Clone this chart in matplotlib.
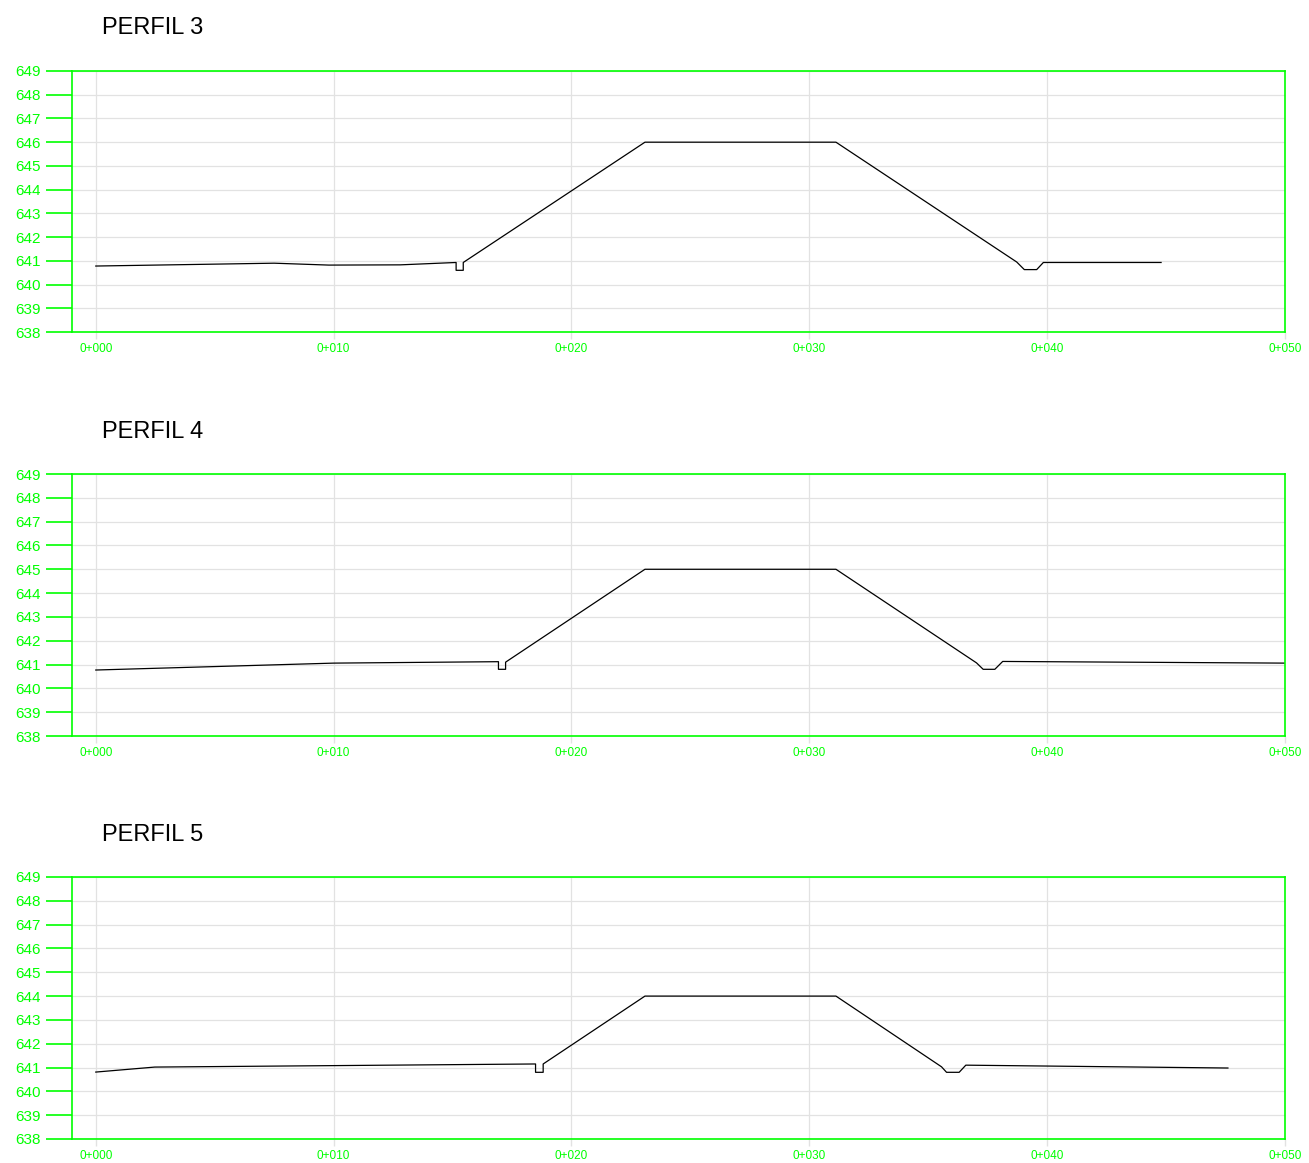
import matplotlib
matplotlib.use("Agg")
import matplotlib.pyplot as plt

plt.rcParams['font.family'] = ['Liberation Sans', 'DejaVu Sans']

# Perfil data (station in m, elevation in m)
titles = ["PERFIL 3", "PERFIL 4", "PERFIL 5"]

x_p3 = [0, 7.5, 9.8, 12.8, 15.15, 15.15, 15.45, 15.45, 23.09, 31.12, 38.72, 39.04, 39.56, 39.84, 44.79]
y_p3 = [640.78, 640.9, 640.82, 640.83, 640.93, 640.6, 640.6, 640.93, 646.0, 646.0, 640.95, 640.63, 640.63, 640.93, 640.93]

x_p4 = [0, 10.0, 16.93, 16.93, 17.23, 17.23, 23.09, 31.12, 37.03, 37.31, 37.8, 38.13, 50.0]
y_p4 = [640.77, 641.06, 641.12, 640.8, 640.8, 641.1, 645.0, 645.0, 641.07, 640.8, 640.8, 641.13, 641.06]

x_p5 = [0, 2.48, 18.49, 18.49, 18.81, 18.81, 23.09, 31.12, 35.56, 35.77, 36.3, 36.58, 47.6]
y_p5 = [640.81, 641.02, 641.15, 640.8, 640.8, 641.15, 644.0, 644.0, 641.03, 640.8, 640.8, 641.1, 640.98]

xs = [x_p3, x_p4, x_p5]
ys = [y_p3, y_p4, y_p5]

x_ticks = [0, 10, 20, 30, 40, 50]
x_labels = ["0+000", "0+010", "0+020", "0+030", "0+040", "0+050"]
y_ticks = list(range(638, 650))

green = '#00ff00'
W, H = 1309, 1163
fig = plt.figure(figsize=(W / 100, H / 100), dpi=100)

# pixel positions of each panel (top, bottom) and title
panels = [(71, 332, 28), (474, 736, 432), (877, 1139, 835)]
left_px, right_px = 72, 1285

for i in range(3):
    top, bot, ty = panels[i]
    ax = fig.add_axes([left_px / W, 1 - bot / H, (right_px - left_px) / W, (bot - top) / H])
    ax.plot(xs[i], ys[i], color='black', linewidth=0.9)
    ax.set_xlim(-1, 50)
    ax.set_ylim(638, 649)
    ax.set_xticks(x_ticks)
    ax.set_xticklabels(x_labels)
    ax.set_yticks(y_ticks)
    ax.grid(True, color='#e2e2e2', linewidth=0.9)
    ax.set_axisbelow(True)
    for s in ax.spines.values():
        s.set_color(green)
        s.set_linewidth(1.2)
    ax.tick_params(axis='y', colors=green, length=19, width=1.2, pad=3.5, labelsize=11)
    ax.tick_params(axis='x', color='#e2e2e2', labelcolor=green, length=5, width=1, pad=3, labelsize=8.5)
    fig.text(102 / W, 1 - ty / H, titles[i], fontsize=17, va='center', ha='left')

fig.savefig('out.png', dpi=100)
